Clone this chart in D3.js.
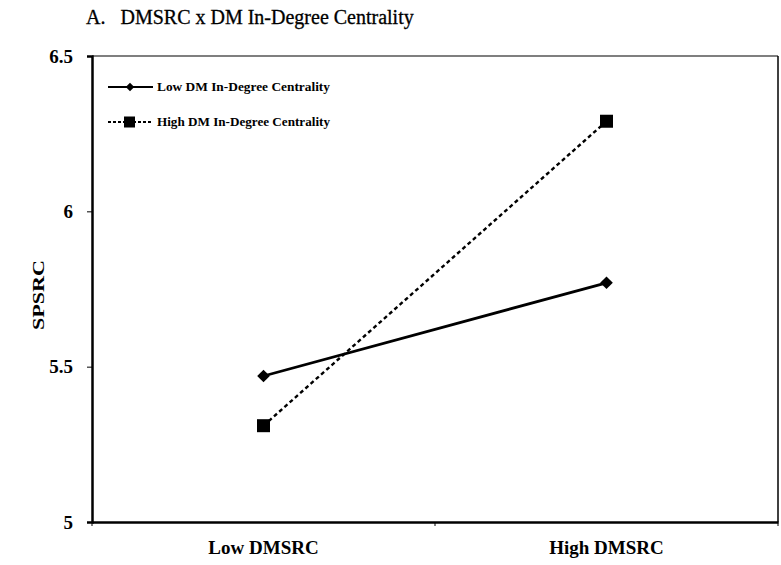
<!DOCTYPE html>
<html><head><meta charset="utf-8">
<script src="https://cdn.jsdelivr.net/npm/d3@7"></script>
<style>body{margin:0;background:#fff}svg{display:block}</style>
</head><body>
<svg id="c" width="781" height="565"></svg>
<script>
const categories = ["Low DMSRC", "High DMSRC"];
const seriesNames = ["Low DM In-Degree Centrality", "High DM In-Degree Centrality"];
const lowValues = [5.47, 5.77];
const highValues = [5.31, 6.29];
const yTicks = [5, 5.5, 6, 6.5];
const yTickLabels = ["5", "5.5", "6", "6.5"];
const title = "A.   DMSRC x DM In-Degree Centrality";
const yLabel = "SPSRC";

const svg = d3.select("#c");
const L = 92, R = 778, T = 56, B = 522;
const font = "'Liberation Serif', 'Times New Roman', serif";

const x = d3.scaleBand().domain(categories).range([L, R]);
const y = d3.scaleLinear().domain([5, 6.5]).range([B, T]);

svg.append("text").attr("x", 86).attr("y", 24).attr("font-family", font)
  .attr("font-size", 20).attr("fill", "#000").attr("stroke", "#000").attr("stroke-width", 0.3)
  .attr("xml:space", "preserve").text(title);

// frame
svg.append("line").attr("x1", R).attr("x2", R).attr("y1", T).attr("y2", B).attr("stroke", "#000").attr("stroke-width", 1.5);
svg.append("line").attr("x1", L).attr("x2", R).attr("y1", T).attr("y2", T).attr("stroke", "#000").attr("stroke-width", 1.2);

const ya = svg.append("g").attr("transform", `translate(${L},0)`)
  .call(d3.axisLeft(y).tickValues(yTicks).tickFormat((d, i) => yTickLabels[i]).tickSize(5).tickPadding(14));
ya.select(".domain").attr("stroke-width", 2.5);
ya.selectAll("text").attr("font-family", font).attr("font-size", 19).attr("font-weight", "bold").attr("fill", "#000");

const xa = svg.append("g").attr("transform", `translate(0,${B})`)
  .call(d3.axisBottom(x).tickSize(0).tickPadding(19));
xa.select(".domain").attr("stroke-width", 2.5);
xa.selectAll("text").attr("font-family", font).attr("font-size", 19).attr("font-weight", "bold").attr("fill", "#000");
// category boundary ticks
svg.append("g").selectAll("line").data([L, x(categories[1]), R]).join("line")
  .attr("x1", d => d).attr("x2", d => d).attr("y1", B).attr("y2", B + 4).attr("stroke", "#000").attr("stroke-width", 1);

svg.append("text").attr("transform", `translate(44,${(T + B) / 2 + 6}) rotate(-90)`)
  .attr("text-anchor", "middle").attr("font-family", font).attr("font-size", 16).attr("font-weight", "bold")
  .attr("textLength", 70).attr("lengthAdjust", "spacingAndGlyphs").text(yLabel);

const cx = c => x(c) + x.bandwidth() / 2;
const line = d3.line().x((d, i) => cx(categories[i])).y(d => y(d));

svg.append("path").attr("d", line(lowValues)).attr("fill", "none").attr("stroke", "#000").attr("stroke-width", 2.8);
svg.append("path").attr("d", line(highValues)).attr("fill", "none").attr("stroke", "#000").attr("stroke-width", 2.4).attr("stroke-dasharray", "4,3");

const diamond = d3.symbol().type(d3.symbolSquare).size(80);
svg.append("g").selectAll("path").data(lowValues).join("path")
  .attr("d", diamond).attr("transform", (d, i) => `translate(${cx(categories[i])},${y(d)}) rotate(45)`).attr("fill", "#000");
svg.append("g").selectAll("rect").data(highValues).join("rect")
  .attr("x", (d, i) => cx(categories[i]) - 6.5).attr("y", d => y(d) - 6.5).attr("width", 13).attr("height", 13).attr("fill", "#000");

// legend
const lg = svg.append("g");
const ly = [87, 122];
lg.append("line").attr("x1", 108).attr("x2", 153).attr("y1", ly[0]).attr("y2", ly[0]).attr("stroke", "#000").attr("stroke-width", 2);
lg.append("path").attr("d", d3.symbol().type(d3.symbolSquare).size(36)).attr("transform", `translate(130,${ly[0]}) rotate(45)`);
lg.append("line").attr("x1", 108).attr("x2", 153).attr("y1", ly[1]).attr("y2", ly[1]).attr("stroke", "#000").attr("stroke-width", 2).attr("stroke-dasharray", "3,2");
lg.append("rect").attr("x", 124).attr("y", ly[1] - 5.5).attr("width", 11).attr("height", 11);
lg.selectAll("text").data(seriesNames).join("text")
  .attr("x", 157).attr("y", (d, i) => ly[i] + 4).attr("font-family", font).attr("font-size", 13)
  .attr("font-weight", "bold").attr("textLength", 173).attr("lengthAdjust", "spacingAndGlyphs").text(d => d);
</script>
</body></html>
